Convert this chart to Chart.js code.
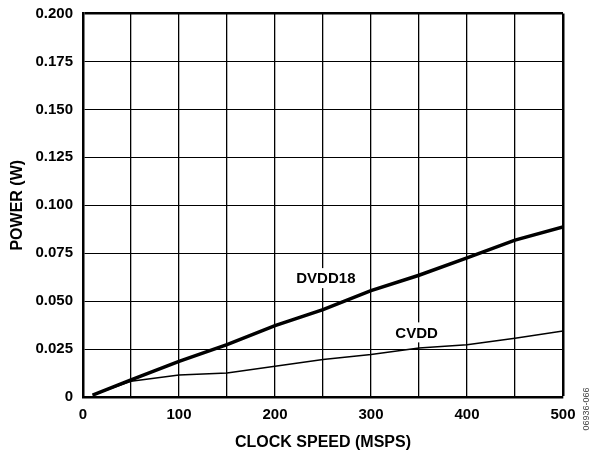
<!DOCTYPE html>
<html>
<head>
<meta charset="utf-8">
<script src="https://cdn.jsdelivr.net/npm/chart.js@4/dist/chart.umd.min.js"></script>
<style>
html,body{margin:0;padding:0;background:#fff;}
#wrap{position:relative;width:592px;height:453px;}
</style>
</head>
<body>
<div id="wrap"><canvas id="c" width="592" height="453"></canvas></div>
<script>
const clockSpeed = [10, 50, 100, 150, 200, 250, 300, 350, 400, 450, 500];
const dvdd18 = [0.001, 0.0089, 0.0186, 0.0273, 0.0372, 0.0456, 0.0555, 0.0635, 0.0726, 0.0818, 0.0887];
const cvdd = [0.001, 0.0082, 0.0115, 0.0125, 0.0160, 0.0195, 0.0222, 0.0255, 0.0272, 0.0307, 0.0344];
const seriesNames = ['DVDD18', 'CVDD'];
const labelAnchors = [[253, 0.062], [347.5, 0.0337]];
const xTitle = 'CLOCK SPEED (MSPS)';
const yTitle = 'POWER (W)';
const figureId = '06936-066';

const FONT = "'Liberation Sans', Arial, Helvetica, sans-serif";

const toPts = (ys) => clockSpeed.map((x, i) => ({x: x, y: ys[i]}));

const labelPlugin = {
  id: 'curveLabels',
  afterDatasetsDraw(chart) {
    const ctx = chart.ctx;
    const xs = chart.scales.x, ys = chart.scales.y;
    ctx.save();
    ctx.font = "bold 15px " + FONT;
    ctx.textAlign = 'center';
    ctx.textBaseline = 'middle';
    seriesNames.forEach((name, i) => {
      const px = xs.getPixelForValue(labelAnchors[i][0]);
      const py = ys.getPixelForValue(labelAnchors[i][1]);
      const w = ctx.measureText(name).width;
      ctx.fillStyle = '#fff';
      ctx.fillRect(px - w / 2 - 2, py - 10, w + 4, 20);
      ctx.fillStyle = '#000';
      ctx.fillText(name, px, py + 1);
    });
    ctx.restore();
  },
  afterDraw(chart) {
    const ctx = chart.ctx;
    ctx.save();
    ctx.translate(587, 409);
    ctx.rotate(-Math.PI / 2);
    ctx.font = "9px " + FONT;
    ctx.fillStyle = '#444';
    ctx.textAlign = 'center';
    ctx.textBaseline = 'middle';
    ctx.fillText(figureId, 0, 0);
    ctx.restore();
  }
};

new Chart(document.getElementById('c'), {
  type: 'line',
  data: {
    datasets: [
      {label: seriesNames[0], data: toPts(dvdd18), borderColor: '#000', borderWidth: 3.5, pointRadius: 0, tension: 0, fill: false},
      {label: seriesNames[1], data: toPts(cvdd), borderColor: '#000', borderWidth: 1.5, pointRadius: 0, tension: 0, fill: false}
    ]
  },
  options: {
    responsive: false,
    animation: false,
    events: [],
    layout: {padding: {left: 0, right: 29, top: 13.5, bottom: 0}},
    plugins: {legend: {display: false}, tooltip: {enabled: false}},
    scales: {
      x: {
        type: 'linear', min: 0, max: 500,
        afterFit(s) { s.height = 56; s.paddingLeft = 0; s.paddingRight = 0; },
        border: {color: '#000', width: 2.5},
        grid: {color: '#000', lineWidth: (c) => (c.tick && c.tick.value === 500 ? 2.5 : 1.3), drawTicks: false},
        ticks: {
          stepSize: 50, padding: 9, color: '#000', maxRotation: 0, autoSkip: false,
          font: {family: FONT, size: 15, weight: 'bold'},
          callback: (v) => (v % 100 === 0 ? String(v) : '')
        },
        title: {display: true, text: xTitle, color: '#000', font: {family: FONT, size: 16, weight: 'bold'}, padding: {top: 0, bottom: 1}}
      },
      y: {
        min: 0, max: 0.2,
        afterFit(s) { s.width = 83; s.paddingTop = 0; s.paddingBottom = 0; },
        border: {color: '#000', width: 2.5},
        grid: {color: '#000', lineWidth: (c) => (c.tick && Math.abs(c.tick.value - 0.2) < 1e-9 ? 2.5 : 1), drawTicks: false},
        ticks: {
          stepSize: 0.025, padding: 10, color: '#000',
          font: {family: FONT, size: 15, weight: 'bold'},
          callback: (v) => (v === 0 ? '0' : Number(v).toFixed(3))
        },
        title: {display: true, text: yTitle, color: '#000', font: {family: FONT, size: 16, weight: 'bold'}, padding: {top: 8, bottom: 0}}
      }
    }
  },
  plugins: [labelPlugin]
});
</script>
</body>
</html>
